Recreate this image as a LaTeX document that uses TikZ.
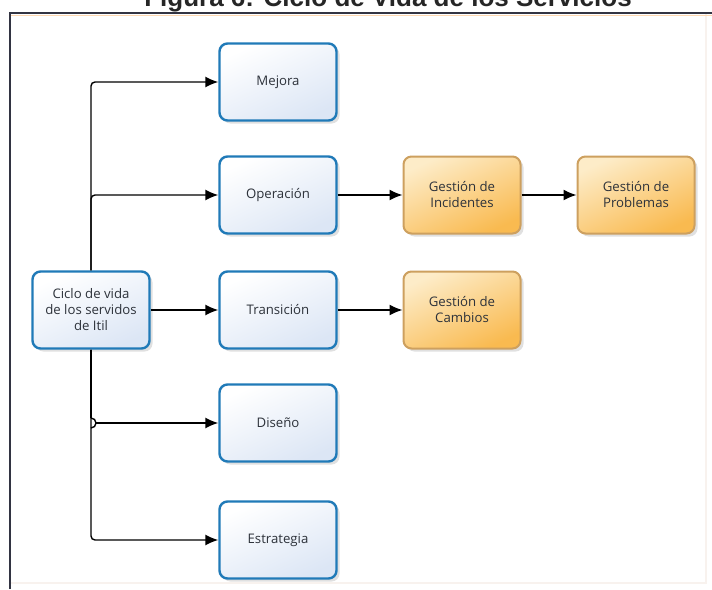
\documentclass[tikz,border=0pt]{standalone}
\usepackage{fontspec}
\setmainfont{Open Sans}
\newfontfamily\titlefont{Liberation Sans}
\usetikzlibrary{arrows.meta,shadows}

\definecolor{boxblue}{RGB}{32,122,184}
\definecolor{fillblueA}{RGB}{255,255,255}
\definecolor{fillblueB}{RGB}{220,230,245}
\definecolor{boxtan}{RGB}{205,160,95}
\definecolor{fillorA}{RGB}{253,236,200}
\definecolor{fillorB}{RGB}{249,186,80}
\definecolor{labeltext}{RGB}{45,50,58}
\definecolor{framedark}{RGB}{50,52,66}
\definecolor{framelight}{RGB}{248,242,238}

\tikzset{
  every node/.style={font=\fontsize{13.2}{16}\selectfont, text=labeltext},
  basebox/.style={rounded corners=8pt, minimum width=117pt, minimum height=77pt,
    align=center, line width=2.4pt,
    drop shadow={shadow xshift=3pt, shadow yshift=-3pt, opacity=0.2, fill=black!60}},
  bluebox/.style={basebox, draw=boxblue, top color=fillblueA, bottom color=fillblueB, shading angle=25},
  orangebox/.style={basebox, draw=boxtan, top color=fillorA, bottom color=fillorB, shading angle=25, line width=2pt},
  conn/.style={draw=black, line width=1.4pt, -{Latex[length=13pt,width=11pt]}, rounded corners=4pt},
  connline/.style={draw=black, line width=1.4pt},
}

\begin{document}
\begin{tikzpicture}[x=1pt,y=-1pt]
  \useasboundingbox (0,0) rectangle (712,589);
  \fill[white] (0,0) rectangle (712,589);

  % title, partly above the page edge
  \node[anchor=base, font=\titlefont\bfseries\fontsize{26}{30}\selectfont, text=black!85]
    (title) at (388,6) {Figura 6: Ciclo de Vida de los Servicios};

  % frame around the figure
  \draw[framelight, line width=1.2pt] (706,13) -- (706,583) -- (10,583);
  \draw[framedark, line width=1.6pt] (10,589) -- (10,13) -- (712,13);
  \draw[orange!30, line width=1pt] (11,15.2) -- (712,15.2);

  % lifecycle stages
  \node[bluebox] (ciclo) at (91,310) {Ciclo de vida\\de los servidos\\de Itil};
  \node[bluebox] (mejora) at (278,82) {Mejora};
  \node[bluebox] (operacion) at (278,195) {Operación};
  \node[bluebox] (transicion) at (278,310) {Transición};
  \node[bluebox] (diseno) at (278,423) {Diseño};
  \node[bluebox] (estrategia) at (278,540) {Estrategia};

  % management processes
  \node[orangebox] (incidentes) at (462,195) {Gestión de\\Incidentes};
  \node[orangebox] (problemas) at (636,195) {Gestión de\\Problemas};
  \node[orangebox] (cambios) at (462,310) {Gestión de\\Cambios};

  % connectors from the lifecycle box
  \draw[conn] (ciclo.north) |- (mejora.west);
  \draw[conn] (ciclo.north) |- (operacion.west);
  \draw[conn] (ciclo.east) -- (transicion.west);
  \draw[conn] (ciclo.south) |- (estrategia.west);
  \coordinate (hop) at (ciclo.south |- diseno.west);
  \draw[connline] (ciclo.south) -- ([yshift=5pt]hop);
  \draw[connline] ([yshift=5pt]hop) arc[start angle=90, end angle=-90, radius=5pt];
  \draw[conn] ([xshift=5pt]hop) -- (diseno.west);

  % follow-on processes
  \draw[conn] (operacion.east) -- (incidentes.west);
  \draw[conn] (incidentes.east) -- (problemas.west);
  \draw[conn] (transicion.east) -- (cambios.west);
\end{tikzpicture}
\end{document}
